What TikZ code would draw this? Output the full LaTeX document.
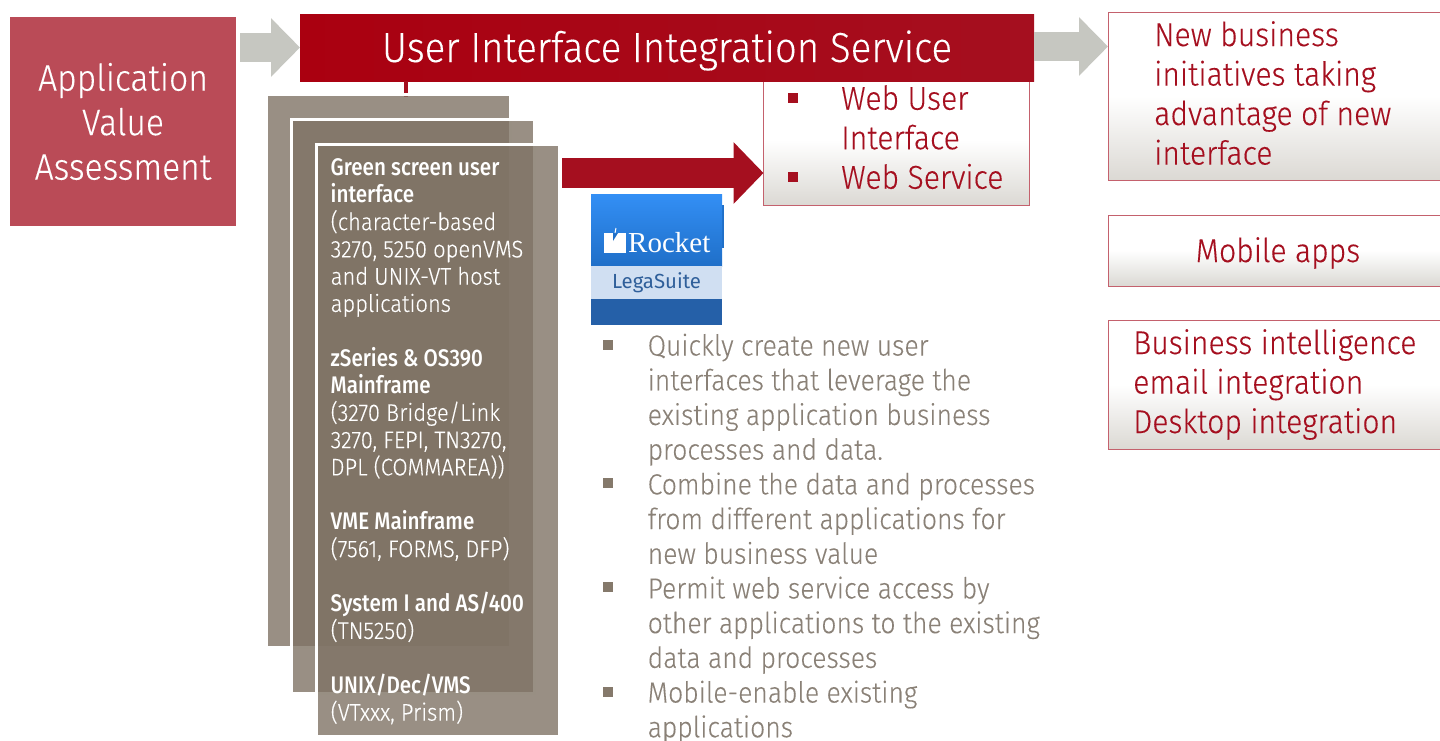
\documentclass[tikz,border=0pt]{standalone}
\usepackage{fontspec}
\setmainfont{Fira Sans Light}[FakeStretch=0.915,FakeBold=0.2,BoldFont={Fira Sans Medium},BoldFeatures={FakeStretch=0.86,FakeBold=0}]
\newfontfamily\logoserif{Liberation Serif}
\newfontfamily\logosans{Fira Sans}
\usetikzlibrary{arrows.meta}
\definecolor{fjred}{HTML}{A50F1F}
\definecolor{fjbar}{HTML}{AA0010}
\definecolor{fjbardark}{HTML}{8E0C18}
\definecolor{fjrose}{HTML}{BA4B57}
\definecolor{fjedge}{HTML}{C4616D}
\definecolor{fjarrow}{HTML}{C6C7C1}
\definecolor{fjtaupe}{HTML}{7F7365}
\definecolor{fjgrey}{HTML}{8A8177}
\definecolor{fjbullet}{HTML}{85796B}
\definecolor{logohigh}{HTML}{338FF5}
\definecolor{logodeep}{HTML}{1F6FC8}
\definecolor{logoband}{HTML}{D0DFF2}
\definecolor{logoink}{HTML}{2F5F9A}
\definecolor{logolow}{HTML}{2560A8}
\pgfdeclareverticalshading{palebox}{100bp}{rgb(0bp)=(0.86,0.85,0.83); rgb(25bp)=(0.86,0.85,0.83); rgb(50bp)=(1,1,1); rgb(100bp)=(1,1,1)}
\newcommand{\sqmark}[3]{\llap{\textcolor{#1}{\rule[#2]{10pt}{10pt}}\hspace{#3}}}
\tikzset{
	palenode/.style={anchor=north west, inner sep=0pt, outer sep=0pt, draw=fjedge, line width=1pt, shade, shading=palebox},
	redtext/.style={anchor=north west, inner sep=0pt, text=fjred, align=left, font=\fontsize{33}{39.5}\selectfont},
	stackbox/.style={anchor=north west, inner sep=0pt, outer sep=0pt, fill=fjtaupe, fill opacity=0.8, draw=white, draw opacity=1, line width=3pt},
	greyarrow/.style={draw=fjarrow, line width=29pt, -{Triangle[length=29pt,width=57pt,fill=fjarrow]}},
	redarrow/.style={draw=fjred, line width=30pt, -{Triangle[length=30pt,width=60pt,fill=fjred]}},
}
\begin{document}
\begin{tikzpicture}[x=1pt,y=-1pt]
	\useasboundingbox (0,0) rectangle (1440,740);
	%Web box goes under the title bar
	\node[palenode, minimum width=266pt, minimum height=130pt] (webbox) at (763.5,75) {};
	\node[redtext] (webtext) at (841,85)
		{\sqmark{fjred}{7pt}{43pt}Web User\\Interface\\\sqmark{fjred}{7pt}{43pt}Web Service};
	%Assessment
	\node[anchor=north west, inner sep=0pt, outer sep=0pt, fill=fjrose, minimum width=226pt, minimum height=209pt, text=white, align=center, font=\fontsize{36.8}{44.5}\selectfont] (assess) at (10,17)
		{Application\\Value\\Assessment};
	%Title bar
	\node[anchor=north west, inner sep=0pt, outer sep=0pt, left color=fjbar, middle color=fjbardark, right color=fjred, minimum width=734pt, minimum height=67pt] (uiis) at (300,14) {};
	\node[inner sep=0pt, text=white, font=\fontsize{42}{48}\selectfont] (uiistext) at ([yshift=-3pt]uiis.center)
		{User Interface Integration Service};
	%Result boxes
	\node[palenode, minimum width=345pt, minimum height=168pt] (newbiz) at (1108,12) {};
	\node[redtext] (newbiztext) at (1154,21)
		{New business\\initiatives taking\\advantage of new\\interface};
	\node[palenode, minimum width=345pt, minimum height=71pt] (mobile) at (1108,215) {};
	\node[redtext, anchor=center] (mobiletext) at (1278,253) {Mobile apps};
	\node[palenode, minimum width=345pt, minimum height=129pt] (bizint) at (1108,320) {};
	\node[redtext] (bizinttext) at (1133,329)
		{Business intelligence\\email integration\\Desktop integration};
	%Stack of sheets
	\draw[fjred, line width=4pt] ([xshift=-261pt]uiis.south) -- ++(0,16);
	\node[stackbox, minimum width=244pt, minimum height=553pt] (stackone) at (266.5,94.5) {};
	\node[stackbox, minimum width=243pt, minimum height=574pt] (stacktwo) at (291.5,119.5) {};
	\node[stackbox, minimum width=243pt, minimum height=592pt] (stackthree) at (316.5,144.5) {};
	\node[anchor=north west, inner sep=0pt, text=white, align=left, font=\fontsize{24}{27.25}\selectfont] (stacktext) at (330.5,158.5)
		{\textbf{Green screen user}\\\textbf{interface}\\(character-based\\3270, 5250 openVMS\\and UNIX-VT host\\applications\\[27.25pt]
		\textbf{zSeries \& OS390}\\\textbf{Mainframe}\\(3270 Bridge/Link\\3270, FEPI, TN3270,\\DPL (COMMAREA))\\[27.25pt]
		\textbf{VME Mainframe}\\(7561, FORMS, DFP)\\[27.25pt]
		\textbf{System I and AS/400}\\(TN5250)\\[27.25pt]
		\textbf{UNIX/Dec/VMS}\\(VTxxx, Prism)};
	%Arrows
	\draw[greyarrow, shorten <=4pt] (assess.east |- uiis.west) -- (uiis.west);
	\draw[greyarrow] ([yshift=1pt]uiis.east) -- ([yshift=1pt]uiis.east -| newbiz.west);
	\draw[redarrow, shorten <=2.5pt] ([yshift=-33pt]stackthree.east |- webbox.west) -- ([yshift=-33pt]webbox.west);
	%Logo
	\fill[logodeep] (722,205) rectangle (723.5,248);
	\node[anchor=north west, inner sep=0pt, outer sep=0pt, minimum width=131pt, minimum height=72pt, top color=logohigh, bottom color=logodeep] (logotop) at (591,194) {};
	\node[anchor=north west, inner sep=0pt, outer sep=0pt, minimum width=131pt, minimum height=33pt, fill=logoband] (logomid) at (logotop.south west) {};
	\node[inner sep=0pt, text=logoink, font=\logosans\fontsize{20.4}{24}\selectfont] (logosuite) at ([yshift=-0.5pt]logomid.center) {LegaSuite};
	\node[anchor=north west, inner sep=0pt, outer sep=0pt, minimum width=131pt, minimum height=26pt, fill=logolow] (logolow) at (logomid.south west) {};
	\node[anchor=base west, inner sep=0pt, text=white, font=\logoserif\fontsize{29}{30}\selectfont] (logoname) at (628,252) {Rocket};
	\fill[white] (604,233) rectangle (626,253);
	\fill[logodeep] (613,233) -- (618,233) -- (613,241) -- cycle;
	\draw[white, line width=1pt] (615,233) -- (616,228);
	%Bullets
	\node[anchor=north west, inner sep=0pt, text=fjgrey, align=left, font=\fontsize{29}{34.7}\selectfont] (benefits) at (647.5,333.5)
		{\sqmark{fjbullet}{6pt}{35pt}Quickly create new user\\interfaces that leverage the\\existing application business\\processes and data.\\
		\sqmark{fjbullet}{6pt}{35pt}Combine the data and processes\\from different applications for\\new business value\\
		\sqmark{fjbullet}{6pt}{35pt}Permit web service access by\\other applications to the existing\\data and processes\\
		\sqmark{fjbullet}{6pt}{35pt}Mobile-enable existing\\applications};
\end{tikzpicture}
\end{document}
